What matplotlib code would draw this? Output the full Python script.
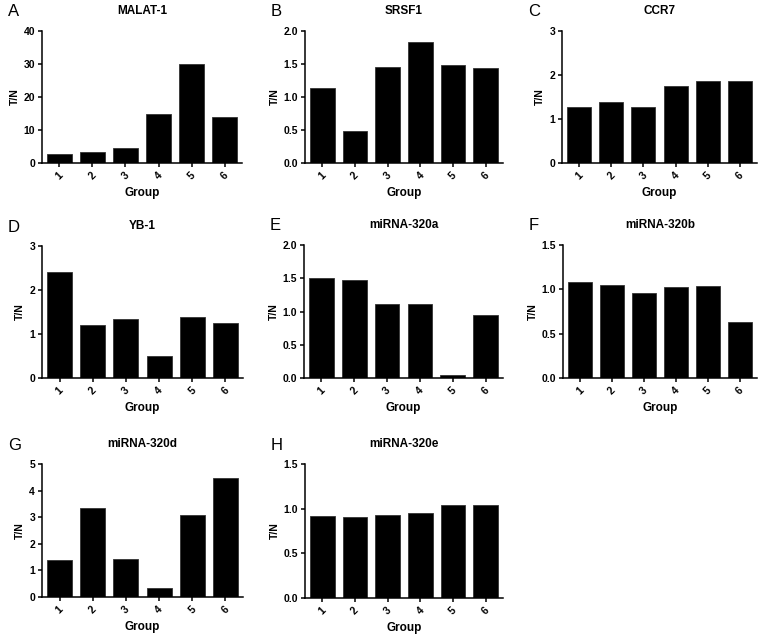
import matplotlib
matplotlib.use("Agg")
import matplotlib.pyplot as plt
import numpy as np

plt.rcParams['font.family'] = ['Liberation Sans', 'DejaVu Sans']

groups = ['1', '2', '3', '4', '5', '6']

malat1 = [2.7, 3.3, 4.5, 14.9, 30.1, 13.9]
srsf1 = [1.13, 0.49, 1.45, 1.83, 1.48, 1.44]
ccr7 = [1.27, 1.38, 1.27, 1.76, 1.87, 1.87]
yb1 = [2.40, 1.21, 1.33, 0.49, 1.38, 1.24]
mir320a = [1.50, 1.48, 1.11, 1.11, 0.05, 0.94]
mir320b = [1.08, 1.05, 0.96, 1.03, 1.035, 0.63]
mir320d = [1.38, 3.34, 1.42, 0.35, 3.07, 4.46]
mir320e = [0.915, 0.91, 0.925, 0.955, 1.04, 1.04]

# panel: letter, title, values, ymax, yticks, tick format, axes box in pixels (left, top, right, bottom)
panels = [
    ('A', 'MALAT-1', malat1, 40, [0, 10, 20, 30, 40], None, (42, 31, 242, 163)),
    ('B', 'SRSF1', srsf1, 2.0, [0, 0.5, 1.0, 1.5, 2.0], '%.1f', (305, 31, 503, 163)),
    ('C', 'CCR7', ccr7, 3, [0, 1, 2, 3], None, (562, 31, 757, 163)),
    ('D', 'YB-1', yb1, 3, [0, 1, 2, 3], None, (42, 246, 243, 378)),
    ('E', 'miRNA-320a', mir320a, 2.0, [0, 0.5, 1.0, 1.5, 2.0], '%.1f', (304, 245, 503, 378)),
    ('F', 'miRNA-320b', mir320b, 1.5, [0, 0.5, 1.0, 1.5], '%.1f', (563, 245, 757, 378)),
    ('G', 'miRNA-320d', mir320d, 5, [0, 1, 2, 3, 4, 5], None, (42, 464, 243, 597)),
    ('H', 'miRNA-320e', mir320e, 1.5, [0, 0.5, 1.0, 1.5], '%.1f', (305, 464, 503, 598)),
]

W, H = 767, 634
fig = plt.figure(figsize=(W / 100, H / 100), dpi=100)

x = np.arange(1, 7)
for letter, title, vals, ymax, yt, fmt, (l, t, r, b) in panels:
    ax = fig.add_axes([l / W, 1 - b / H, (r - l) / W, (b - t) / H])
    ax.bar(x, vals, width=0.75, color='black', edgecolor='#333333', linewidth=0.6)
    ax.set_xlim(0.47, 6.53)
    ax.set_ylim(0, ymax)
    ax.set_yticks(yt)
    if fmt:
        ax.set_yticklabels([fmt % v for v in yt])
    else:
        ax.set_yticklabels([str(v) for v in yt])
    ax.set_xticks(x)
    ax.set_xticklabels(groups, rotation=45, ha='center')
    for s in ['top', 'right']:
        ax.spines[s].set_visible(False)
    for s in ['left', 'bottom']:
        ax.spines[s].set_linewidth(1.1)
    ax.tick_params(axis='both', direction='out', length=3, width=1.1,
                   labelsize=7.5, pad=2)
    for lab in ax.get_xticklabels() + ax.get_yticklabels():
        lab.set_fontweight('bold')
    ax.set_ylabel('T/N', fontsize=7.5, fontweight='bold', labelpad=3)
    ax.set_xlabel('Group', fontsize=8.5, fontweight='bold', labelpad=4)
    ax.set_title(title, fontsize=8.5, fontweight='bold', pad=12)
    fig.text((l - 34) / W, 1 - (t - 19) / H, letter, fontsize=12,
             ha='left', va='center')

plt.savefig('out.png', dpi=100)
